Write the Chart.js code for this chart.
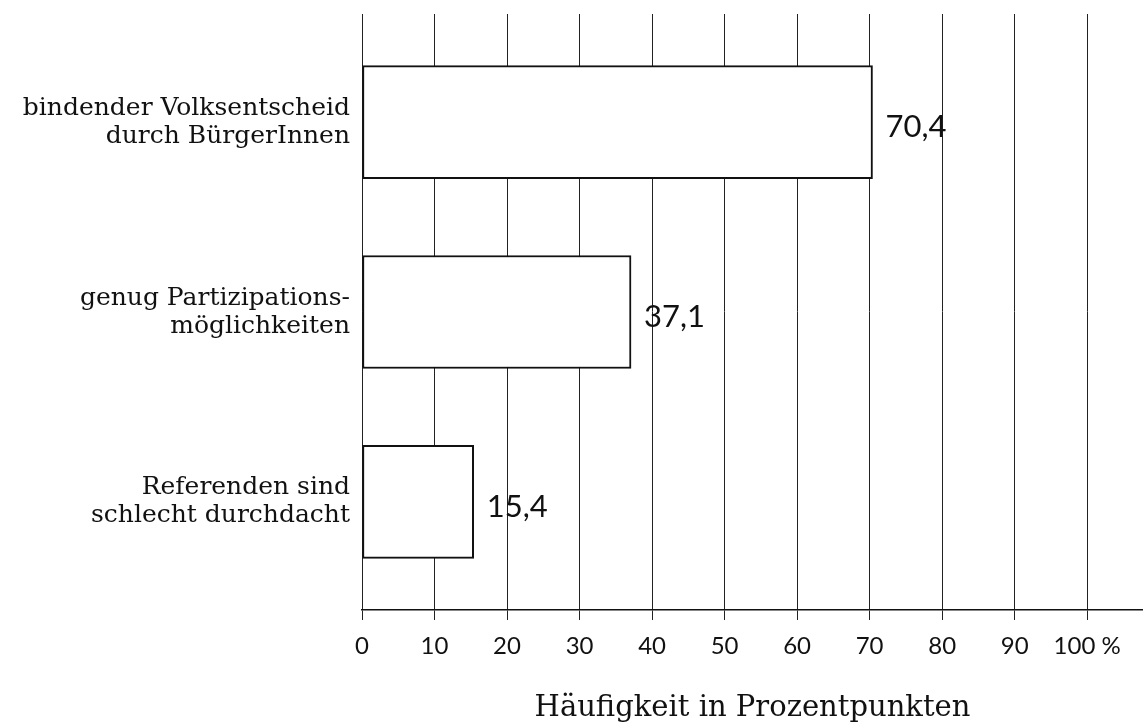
<!DOCTYPE html>
<html>
<head>
<meta charset="utf-8">
<script src="https://cdn.jsdelivr.net/npm/chart.js@4"></script>
<style>
  html, body { margin: 0; padding: 0; background: #fff; }
  #wrap { width: 1143px; height: 726px; }
</style>
</head>
<body>
<div id="wrap"><canvas id="myChart" width="1143" height="726"></canvas></div>
<script>
'use strict';

const categories = [
    ['bindender Volksentscheid', 'durch BürgerInnen'],
    ['genug Partizipations-', 'möglichkeiten'],
    ['Referenden sind', 'schlecht durchdacht']
];
const values = [70.4, 37.1, 15.4];
const valueLabels = ['70,4', '37,1', '15,4'];
const xTicks = [0, 10, 20, 30, 40, 50, 60, 70, 80, 90, 100];

const valueLabelPlugin = {
    id: 'valueLabels',
    afterDatasetsDraw(chart) {
        const ctx = chart.ctx;
        const meta = chart.getDatasetMeta(0);
        ctx.save();
        ctx.font = '31px Lato';
        ctx.fillStyle = '#111';
        ctx.textBaseline = 'middle';
        ctx.textAlign = 'left';
        meta.data.forEach((bar, i) => {
            ctx.fillText(valueLabels[i], bar.x + 13, bar.y + 5);
        });
        ctx.restore();
    }
};

const ctx = document.getElementById('myChart');
new Chart(ctx, {
    type: 'bar',
    data: {
        datasets: [{
            data: values.map((v, i) => ({ x: v, y: i })),
            backgroundColor: '#fff',
            borderColor: '#111',
            borderWidth: 2,
            borderSkipped: false,
            barThickness: 113
        }]
    },
    options: {
        indexAxis: 'y',
        responsive: false,
        animation: false,
        layout: { padding: { top: 14, right: 0, left: 0, bottom: 0 } },
        plugins: {
            legend: { display: false },
            tooltip: { enabled: false }
        },
        scales: {
            x: {
                type: 'linear',
                min: 0,
                max: 107.7,
                afterBuildTicks: (axis) => { axis.ticks = xTicks.map(v => ({ value: v })); },
                afterFit: (axis) => { axis.height = 116; axis.paddingLeft = 0; axis.paddingRight = 0; },
                ticks: {
                    color: '#111',
                    font: { family: 'Lato', size: 24 },
                    padding: 12,
                    maxRotation: 0,
                    callback: (v) => v === 100 ? '100 %' : String(v)
                },
                grid: { color: '#222', lineWidth: 1, tickLength: 10 },
                border: { display: true, color: '#111', width: 1.5 },
                title: {
                    display: true,
                    text: 'Häufigkeit in Prozentpunkten',
                    color: '#111',
                    font: { family: 'DejaVu Serif', size: 29 },
                    padding: { top: 18, bottom: 0 }
                }
            },
            y: {
                type: 'linear',
                offset: false,
                reverse: true,
                min: -0.57,
                max: 2.57,
                afterBuildTicks: (axis) => { axis.ticks = categories.map((c, i) => ({ value: i })); },
                afterFit: (axis) => { axis.width = 362; axis.paddingTop = 0; axis.paddingBottom = 0; },
                ticks: {
                    color: '#111',
                    font: { family: 'DejaVu Serif', size: 25, lineHeight: 1.12 },
                    padding: 4,
                    callback: (v) => categories[v]
                },
                grid: { display: false, offset: false },
                border: { display: false }
            }
        }
    },
    plugins: [valueLabelPlugin]
});
</script>
</body>
</html>
